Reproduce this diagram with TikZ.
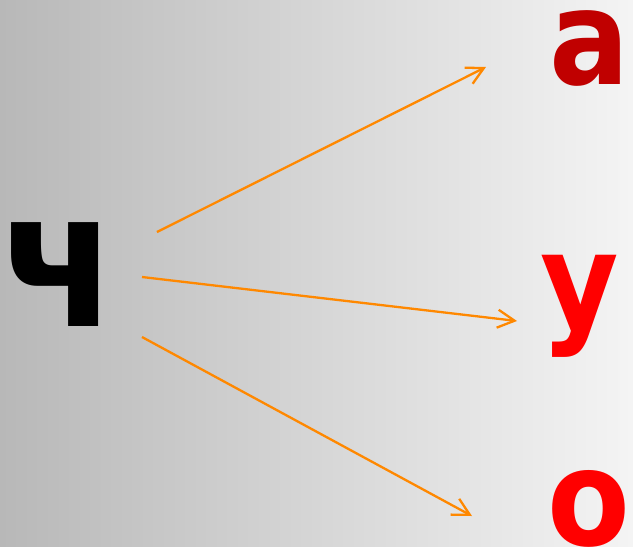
\documentclass[tikz,border=0pt]{standalone}
\usepackage{fontspec}
\setmainfont{DejaVu Sans Condensed}
\usetikzlibrary{arrows.meta}
\definecolor{bgdark}{RGB}{184,184,184}
\definecolor{bglight}{RGB}{244,244,244}
\definecolor{vowelA}{RGB}{192,0,0}
\definecolor{vowel}{RGB}{255,0,0}
\definecolor{linkcol}{RGB}{255,136,0}

\begin{document}
\begin{tikzpicture}[x=1pt, y=-1pt,
    letter/.style={inner sep=0pt, anchor=base west, font=\bfseries\fontsize{#1}{#1}\selectfont},
    link/.style={linkcol, line width=2.3pt, -{Straight Barb[length=17pt, width=18pt, line width=2.3pt]}}]
        \shade[left color=bgdark, right color=bglight] (0,0) rectangle (633,547);
        \useasboundingbox (0,0) rectangle (633,547);
        % letters
        \node[letter=190] (ch) at (0,326) {ч};
        \node[letter=132, text=vowelA] (a) at (549,84) {а};
        \node[letter=134, text=vowel] (u) at (540,328) {у};
        \node[letter=134, text=vowel] (o) at (547,545) {о};
        % arrows
        \coordinate (ch-a) at (157,232);
        \coordinate (ch-u) at (142,277);
        \coordinate (ch-o) at (142,337);
        \coordinate (a-in) at (486,67);
        \coordinate (u-in) at (517,321);
        \coordinate (o-in) at (472,516);
        \draw[link] (ch-a) -- (a-in);
        \draw[link] (ch-u) -- (u-in);
        \draw[link] (ch-o) -- (o-in);
      \end{tikzpicture}
\end{document}
